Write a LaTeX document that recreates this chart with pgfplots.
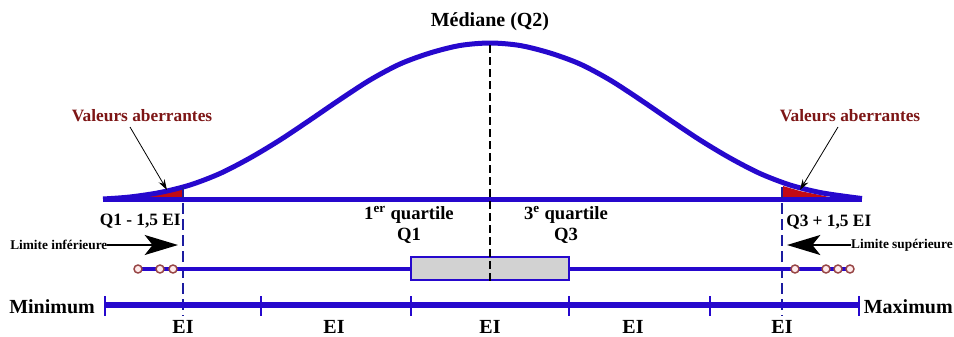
\documentclass[border=0pt]{standalone}
\usepackage{pgfplots}
\pgfplotsset{compat=1.18}
\usepackage{fontspec}
\setmainfont{Liberation Serif}
\usetikzlibrary{arrows.meta}
\definecolor{courbe}{RGB}{38,8,205}
\definecolor{tiret}{RGB}{28,28,160}
\definecolor{rouge}{RGB}{195,10,20}
\definecolor{rougefonce}{RGB}{125,22,22}

\begin{document}
\begin{tikzpicture}
\begin{axis}[
	hide axis,
	scale only axis,
	width=715.5pt, height=252pt,
	xmin=0, xmax=954,
	ymin=0, ymax=336,
	y dir=reverse,
	clip=false,
	font=\bfseries,
]
% zones aberrantes
\addplot[fill=rouge, draw=none] coordinates {
	(148,199) (183,199) (183,186) (165,191) (148,195)
};
\addplot[fill=rouge, draw=none] coordinates {
	(783,199) (838,199) (820,195) (800,191) (783,186)
};
% ligne de base
\addplot[courbe, line width=3.75pt] coordinates {(103,199) (862,199)};
% courbe de Gauss
\addplot[courbe, line width=3.75pt, smooth] coordinates {
	(103,199) (130,197) (160,192.5) (190,185) (220,173.5) (250,158) (280,140)
	(310,120) (340,99.5) (370,80) (400,64) (430,53) (460,45.5) (490,43)
	(520,45.5) (550,53) (580,64) (610,80) (640,99.5) (670,120) (700,140)
	(730,158) (760,173.5) (790,185) (820,192.5) (850,197) (862,198.5)
};
% limites
\addplot[tiret, line width=2.1pt, dash pattern=on 8pt off 4pt] coordinates {(183,187) (183,316)};
\addplot[tiret, line width=2.1pt, dash pattern=on 8pt off 4pt] coordinates {(782,187) (782,316)};
% moustaches
\addplot[courbe, line width=3.5pt] coordinates {(138,269) (850,269)};
% boite
\addplot[fill=gray!35, draw=courbe, line width=2.2pt] coordinates {
	(411,257) (569,257) (569,280) (411,280) (411,257)
} -- cycle;
% mediane
\addplot[black, line width=2.2pt, dash pattern=on 6pt off 3pt] coordinates {(490,45) (490,281)};
% valeurs aberrantes
\addplot[only marks, mark=*, mark size=3pt,
	mark options={fill=red!8, draw=rougefonce!80, line width=1.1pt}]
	coordinates {(138,269) (160,269) (173,269) (795,269) (826,269) (838,269) (850,269)};
% echelle
\addplot[courbe, line width=4.5pt] coordinates {(105,305) (859,305)};
\addplot[courbe, line width=2.1pt] coordinates {(105,296) (105,316)};
\addplot[courbe, line width=2.1pt] coordinates {(261,296) (261,316)};
\addplot[courbe, line width=2.1pt] coordinates {(411,296) (411,316)};
\addplot[courbe, line width=2.1pt] coordinates {(569,296) (569,316)};
\addplot[courbe, line width=2.1pt] coordinates {(710,296) (710,316)};
\addplot[courbe, line width=2.1pt] coordinates {(859,296) (859,316)};

% textes
\node[font=\bfseries\fontsize{15}{17}\selectfont] at (490,22) {Médiane (Q2)};
\node[font=\bfseries\fontsize{13}{15}\selectfont, text=rougefonce] at (142,116) {Valeurs aberrantes};
\node[font=\bfseries\fontsize{13}{15}\selectfont, text=rougefonce] at (850,116) {Valeurs aberrantes};
\draw[-{Stealth[length=8pt,width=5pt]}, line width=0.6pt] (130,127) -- (167,190);
\draw[-{Stealth[length=8pt,width=5pt]}, line width=0.6pt] (838,127) -- (800,190);
\node[font=\bfseries\fontsize{13}{15}\selectfont, anchor=east, inner sep=0pt] at (181,221) {Q1 - 1,5 EI};
\node[font=\bfseries\fontsize{13}{15}\selectfont, anchor=west, inner sep=0pt] at (786,222) {Q3 + 1,5 EI};
\node[font=\bfseries\fontsize{14}{16}\selectfont, align=center] at (409,225) {1\textsuperscript{er} quartile\\Q1};
\node[font=\bfseries\fontsize{14}{16}\selectfont, align=center] at (566,225) {3\textsuperscript{e} quartile\\Q3};
\node[font=\bfseries\fontsize{10}{12}\selectfont, anchor=west, inner sep=0pt] at (10,245) {Limite inférieure};
\node[font=\bfseries\fontsize{10}{12}\selectfont, anchor=east, inner sep=0pt] at (953,245) {Limite supérieure};
\draw[-{Stealth[length=25pt,width=15pt,inset=6pt]}, line width=1.5pt] (107,245) -- (178,245);
\draw[-{Stealth[length=25pt,width=15pt,inset=6pt]}, line width=1.5pt] (851,245) -- (787,245);
\node[font=\bfseries\fontsize{15}{17}\selectfont, anchor=west, inner sep=0pt] at (9,307) {Minimum};
\node[font=\bfseries\fontsize{15}{17}\selectfont, anchor=east, inner sep=0pt] at (953,307) {Maximum};
\node[font=\bfseries\fontsize{15}{17}\selectfont] at (183,327) {EI};
\node[font=\bfseries\fontsize{15}{17}\selectfont] at (334,327) {EI};
\node[font=\bfseries\fontsize{15}{17}\selectfont] at (490,327) {EI};
\node[font=\bfseries\fontsize{15}{17}\selectfont] at (633,327) {EI};
\node[font=\bfseries\fontsize{15}{17}\selectfont] at (782,327) {EI};
\end{axis}
\pgfresetboundingbox
\useasboundingbox (current axis.south west) rectangle (current axis.north east);
\end{tikzpicture}
\end{document}
